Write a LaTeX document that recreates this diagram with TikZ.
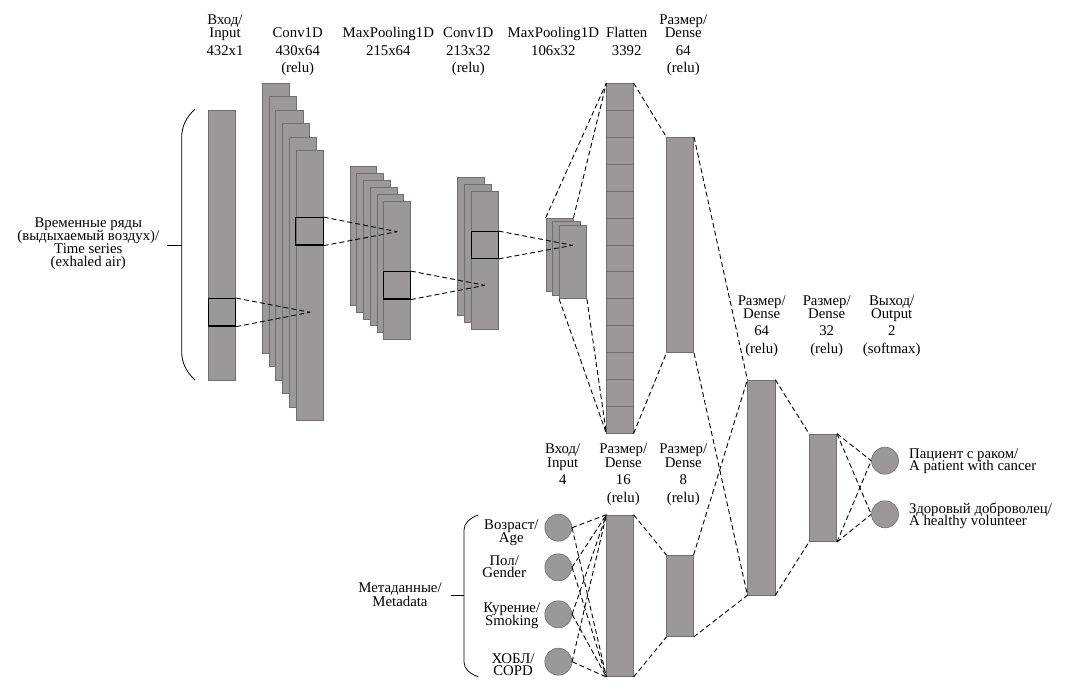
\documentclass[tikz,border=0pt]{standalone}
\usepackage{fontspec}
\setmainfont{Liberation Serif}
\usetikzlibrary{fit,calc}
\definecolor{barfill}{RGB}{154,152,152}
\definecolor{baredge}{RGB}{112,110,110}
\newcommand\lbsize{\fontsize{14.8}{17.5}\selectfont\lineskiplimit=-20pt}
\newcommand\lbtight{\fontsize{14.8}{13.2}\selectfont\lineskiplimit=-20pt}
\newcommand\lbpair{\fontsize{14.8}{12.5}\selectfont\lineskiplimit=-20pt}
\newcommand\lbmeta{\fontsize{14.8}{14}\selectfont\lineskiplimit=-20pt}
\tikzset{
  bar/.style={fill=barfill, draw=baredge, line width=0.6pt, inner sep=0pt},
  kbox/.style={draw=black, line width=1.2pt, inner sep=0pt},
  conn/.style={draw=black, dash pattern=on 5pt off 3pt, line width=0.9pt},
  circ/.style={circle, fill=barfill, draw=baredge, line width=0.6pt, minimum size=27pt, inner sep=0pt},
  lbl/.style={font=\lbsize, align=center, anchor=base, inner sep=0pt},
  lblt/.style={font=\lbtight, align=center, anchor=base, inner sep=0pt},
  lblp/.style={font=\lbpair, align=center, anchor=base, inner sep=0pt},
  brace/.style={draw=black, line width=0.8pt}
}
\begin{document}
\begin{tikzpicture}[x=1pt, y=-1pt]
\useasboundingbox (0,0) rectangle (1069,696);

% ---------- time series branch ----------
\node[bar, fit={(208.3,110.3) (235.7,380)}] (inp) {};
\foreach \k in {0,...,5}{
  \node[bar, fit={({262.3+6.7*\k},{83.3+13.4*\k}) ({289.6+6.7*\k},{353.3+13.4*\k})}] (ca\k) {};
}
\foreach \k in {0,...,5}{
  \node[bar, fit={({350+6.7*\k},{166.7+6.9*\k}) ({376.7+6.7*\k},{305+6.9*\k})}] (pa\k) {};
}
\foreach \k in {0,...,2}{
  \node[bar, fit={({457.7+6.8*\k},{177.3+7*\k}) ({484.5+6.8*\k},{315.7+7*\k})}] (cb\k) {};
}
\foreach \k in {0,...,2}{
  \node[bar, fit={({546+6.7*\k},{218+3.6*\k}) ({573.2+6.7*\k},{291.4+3.6*\k})}] (pb\k) {};
}
\node[bar, fit={(606.7,83.3) (633.3,433.3)}] (fl) {};
\foreach \i in {1,...,12}{
  \draw[baredge, line width=0.6pt] ($(fl.north west)!\i/13!(fl.south west)$) -- ($(fl.north east)!\i/13!(fl.south east)$);
}
\node[bar, fit={(666.7,137.3) (693.7,352.7)}] (da) {};

% kernel boxes
\node[kbox, fit={(208.3,298.7) (235.7,326)}] (kin) {};
\node[kbox, fit={(295.8,217.7) (323.1,245)}] (ka) {};
\node[kbox, fit={(383.5,271.7) (410.2,299)}] (kb) {};
\node[kbox, fit={(471.3,231.7) (498.1,258.3)}] (kc) {};
\coordinate (a1) at (310,312.3);
\coordinate (a2) at (397.3,231.7);
\coordinate (a3) at (485,285.3);
\coordinate (a4) at (572.7,245.3);

% ---------- metadata branch ----------
\node[circ] (m1) at (558.3,527.7) {};
\node[circ] (m2) at (558.3,567.3) {};
\node[circ] (m3) at (558.3,614.3) {};
\node[circ] (m4) at (558.3,661.7) {};
\node[bar, fit={(606.7,515) (633.3,676.7)}] (ds) {};
\node[bar, fit={(666.7,555.3) (693.3,636.7)}] (de) {};

% ---------- merged ----------
\node[bar, fit={(747.7,380) (775,595)}] (db) {};
\node[bar, fit={(809.3,434) (836.7,541.7)}] (dc) {};
\node[circ] (o1) at (885,460.7) {};
\node[circ] (o2) at (885,514.3) {};

% ---------- connectors ----------
\draw[conn] (kin.north east) -- (a1);
\draw[conn] (kin.south east) -- (a1);
\draw[conn] (ka.north east) -- (a2);
\draw[conn] (ka.south east) -- (a2);
\draw[conn] (kb.north east) -- (a3);
\draw[conn] (kb.south east) -- (a3);
\draw[conn] (kc.north east) -- (a4);
\draw[conn] (kc.south east) -- (a4);
\draw[conn] (pb0.north west) -- (fl.north west);
\draw[conn] (pb0.north east) -- (fl.north west);
\draw[conn] (pb2.south west) -- (fl.south west);
\draw[conn] (pb2.south east) -- (fl.south west);
\draw[conn] (fl.north east) -- (da.north west);
\draw[conn] (fl.south east) -- (da.south west);
\draw[conn] (da.north east) -- (db.north west);
\draw[conn] (da.south east) -- (db.south west);
\foreach \m in {m1,m2,m3,m4}{
  \draw[conn] (\m.east) -- (ds.north west);
  \draw[conn] (\m.east) -- (ds.south west);
}
\draw[conn] (ds.north east) -- (de.north west);
\draw[conn] (ds.south east) -- (de.south west);
\draw[conn] (de.north east) -- (db.north west);
\draw[conn] (de.south east) -- (db.south west);
\draw[conn] (db.north east) -- (dc.north west);
\draw[conn] (db.south east) -- (dc.south west);
\draw[conn] (dc.north east) -- (o1.west);
\draw[conn] (dc.north east) -- (o2.west);
\draw[conn] (dc.south east) -- (o1.west);
\draw[conn] (dc.south east) -- (o2.west);

% ---------- brackets ----------
\draw[brace] (195,109.3) .. controls (186,117) and (181.7,127) .. (181.7,137)
  -- (181.7,352) .. controls (181.7,362) and (186,372) .. (195,380);
\draw[brace] (167.3,245) -- (181.7,245);
\draw[brace] (478.3,515) .. controls (470,518) and (464,523) .. (464,530)
  -- (464,662) .. controls (464,669) and (470,674) .. (478.3,676.7);
\draw[brace] (451,595.7) -- (464,595.7);

% ---------- labels (anchored at the baseline of the last line) ----------
\node[lbl] (tIn) at (225,55) {Вход/\\[-4.3pt]Input\\432x1};
\node[lbl] (tCa) at (297.7,72.7) {Conv1D\\430x64\\(relu)};
\node[lbl] (tPa) at (388.3,55) {MaxPooling1D\\215x64};
\node[lbl] (tCb) at (468.3,72.7) {Conv1D\\213x32\\(relu)};
\node[lbl] (tPb) at (553.3,55) {MaxPooling1D\\106x32};
\node[lbl] (tFl) at (626.7,55) {Flatten\\3392};
\node[lbl] (tDa) at (683.3,72.7) {Размер/\\[-4.3pt]Dense\\64\\(relu)};

\node[lbl] (tMi) at (562.7,484.5) {Вход/\\[-4.3pt]Input\\4};
\node[lbl] (tDs) at (623.3,502) {Размер/\\[-4.3pt]Dense\\16\\(relu)};
\node[lbl] (tDe) at (683.3,502) {Размер/\\[-4.3pt]Dense\\8\\(relu)};

\node[lbl] (tDb) at (761.7,353.3) {Размер/\\[-4.3pt]Dense\\64\\(relu)};
\node[lbl] (tDc) at (826.7,353.3) {Размер/\\[-4.3pt]Dense\\32\\(relu)};
\node[lbl] (tOut) at (891.7,353.3) {Выход/\\[-4.3pt]Output\\2\\(softmax)};

\node[lblt] (tTs) at (88.3,266.6) {Временные ряды\\(выдыхаемый воздух)/\\Time series\\(exhaled air)};
\node[lblp, font=\lbmeta] (tMeta) at (400,606) {Метаданные/\\Metadata};

\node[lblp] (l1) at (511.3,542) {Возраст/\\Age};
\node[lblp] (l2) at (504.2,577.5) {Пол/\\Gender};
\node[lblp] (l3) at (511.8,625.2) {Курение/\\Smoking};
\node[lblp] (l4) at (513,675.8) {ХОБЛ/\\COPD};

\node[lblp, align=left, anchor=base west] (lo1) at (909,470.8) {Пациент с раком/\\A patient with cancer};
\node[lblp, align=left, anchor=base west] (lo2) at (909,525.8) {Здоровый доброволец/\\A healthy volunteer};
\end{tikzpicture}
\end{document}
